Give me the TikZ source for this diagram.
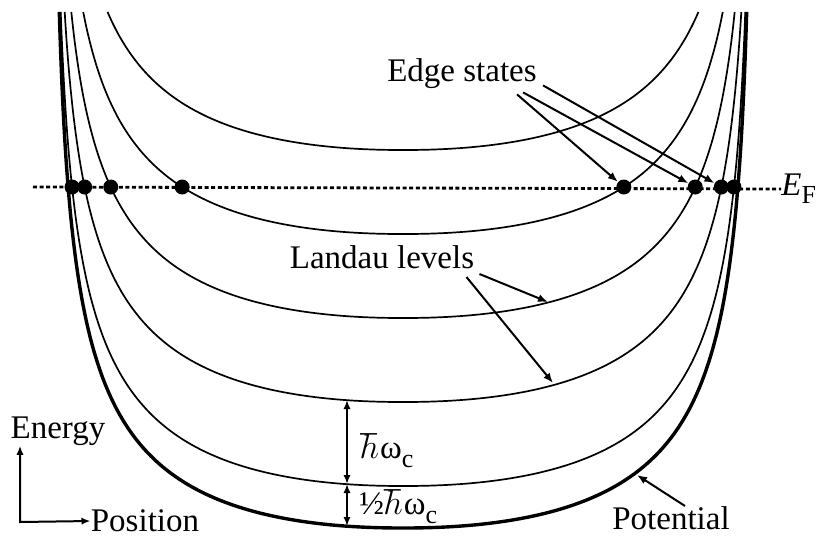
\documentclass[tikz,border=0pt]{standalone}
\usepackage{fontspec}
\setmainfont{Liberation Serif}
\usetikzlibrary{positioning, arrows.meta, calc}
\tikzset{
  lvl/.style={line width=0.85pt},
  pot/.style={line width=1.7pt},
  dot/.style={circle, fill=black, inner sep=0pt, minimum size=7.5pt},
  lbl/.style={font=\fontsize{16.5}{19}\selectfont, inner sep=0pt},
  ar/.style={-{Latex[length=5pt, width=4pt]}, line width=1pt},
  arb/.style={{Latex[length=4.5pt, width=3.6pt]}-{Latex[length=4.5pt, width=3.6pt]}, line width=1pt},
  fermi/.style={line width=1.4pt, dash pattern=on 2pt off 1.3pt},
}
\newcommand{\hw}{$\hbar$\kern0.5ptω\raisebox{-0.6ex}{\fontsize{13}{13}\selectfont c}}

\begin{document}
\begin{tikzpicture}[x=0.5pt, y=-0.5pt]
  \useasboundingbox (0,0) rectangle (821,538);

  % confining potential (thick) and the Landau levels shifted up by (n+1/2) hbar omega
  \draw[pot] plot[domain=-22.72:22.72, samples=140, smooth, variable=\s]
    ({403+351*tanh(\s*pow(abs(\s),-0.062)/8.22)}, {528-\s*\s});
  \foreach \n in {0,...,4}{
    \pgfmathsetmacro{\off}{42+84*\n}
    \pgfmathsetmacro{\smax}{sqrt(516-\off)}
    \draw[lvl] plot[domain=-\smax:\smax, samples=120, smooth, variable=\s]
      ({403+351*tanh(\s*pow(abs(\s),-0.062)/8.22)}, {528-\off-\s*\s});
  }

  % Fermi energy and the edge states where levels cross it
  \coordinate (efL) at (33,187);
  \node[lbl, anchor=west] (EF) at (781,189) {\textit{E}\raisebox{-0.55ex}{\fontsize{13}{13}\selectfont F}};
  \draw[fermi] (efL) -- (EF.west);
  \foreach \n in {0,...,3}{
    \pgfmathsetmacro{\dx}{351*tanh(pow(299-84*\n,0.469)/8.22)}
    \node[dot] (dL\n) at ({403-\dx},187) {};
    \node[dot] (dR\n) at ({403+\dx},187) {};
  }

  % labels
  \node[lbl] (edge) at (462,74) {Edge states};
  \node[lbl] (landau) at (382,257) {Landau levels};
  \node[lbl] (potl) at (671,518) {Potential};
  \node[lbl] (energy) at (58,431) {Energy};
  \node[lbl] (position) at (145,521) {Position};
  \coordinate (origin) at (20,522);

  % edge state pointers
  \draw[ar] ([shift={(-20,5)}]edge.south east) -- (dR3);
  \draw[ar] ([shift={(-14,3)}]edge.south east) -- (dR2);
  \draw[ar] ([shift={(6,-4)}]edge.south east) -- (dR1);

  % landau level pointers
  \coordinate (ll2) at (548,302);
  \coordinate (ll1) at (553,383);
  \draw[ar] ([shift={(5,5)}]landau.south east) -- (ll2);
  \draw[ar] ([shift={(-8,8)}]landau.south east) -- (ll1);

  % spacings
  \coordinate (g1) at (347,400);
  \coordinate (g0) at (347,484);
  \coordinate (gp) at (347,526);
  \draw[arb] (g1) -- (g0);
  \draw[arb] (g0) -- (gp);
  \node[lbl, anchor=west] (hw) at (360,451) {\hw};
  \node[lbl, anchor=west] (hhw) at (359,507) {½\hw};

  % potential pointer
  \coordinate (pc) at (637,475);
  \draw[ar] ([xshift=7]potl.north) -- (pc);

  % axes
  \draw[arb] (origin |- energy.south) -- (origin) -- (position.west);
\end{tikzpicture}
\end{document}
